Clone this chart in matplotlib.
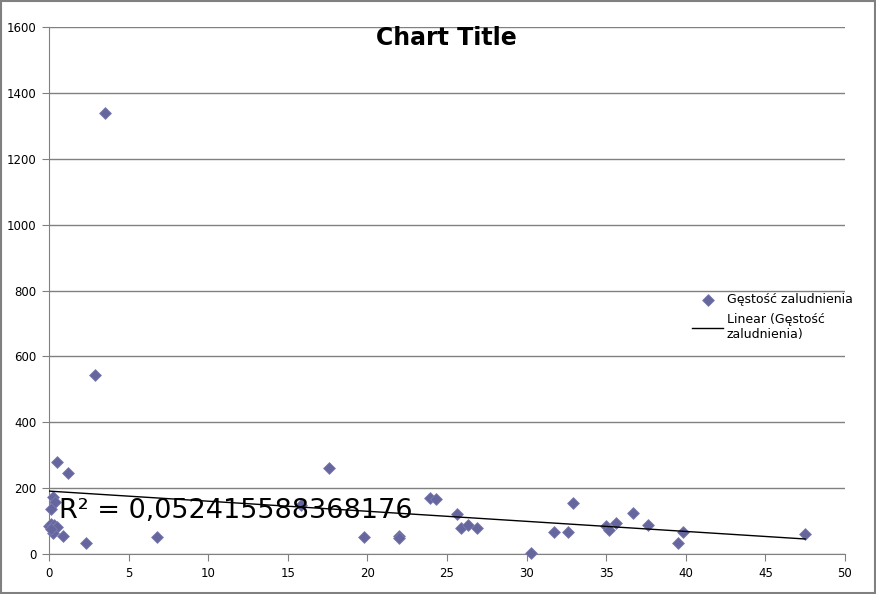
import numpy as np
import matplotlib.pyplot as plt
from matplotlib.patches import Rectangle

# dane
x = [3.5, 2.9, 0.5, 1.2, 0.25, 0.4, 0.1, 0.0, 0.15, 0.3, 0.35, 0.5, 0.25, 0.1,
     0.9, 2.3, 6.8, 15.8, 17.6, 19.8, 22.0, 22.0, 23.9, 24.3, 25.6, 25.9, 26.3,
     26.9, 30.3, 31.7, 32.6, 32.9, 35.0, 35.2, 35.6, 36.7, 37.6, 39.5, 39.8, 47.5]
y = [1338, 545, 278, 245, 173, 158, 138, 85, 92, 88, 78, 82, 65, 75,
     55, 32, 53, 149, 260, 52, 55, 48, 170, 168, 121, 78, 88,
     80, 3, 66, 66, 155, 84, 72, 93, 125, 89, 33, 66, 61]

# linia trendu (Excel)
trend_intercept = 191
trend_slope = -3.06

series_name = 'Gęstość zaludnienia'
r2_text = 'R² = 0,052415588368176'
xticks = np.arange(0, 51, 5)
yticks = np.arange(0, 1601, 200)

fig = plt.figure(figsize=(8.76, 5.94), dpi=100)
ax = fig.add_axes([0.056, 0.0673, 0.9086, 0.8872])

grey = '#808080'
ax.set_xlim(0, 50)
ax.set_ylim(0, 1600)
ax.set_xticks(xticks)
ax.set_yticks(yticks)
ax.yaxis.grid(True, color=grey, linewidth=1)
ax.set_axisbelow(True)
for s in ['top', 'right']:
    ax.spines[s].set_visible(False)
for s in ['left', 'bottom']:
    ax.spines[s].set_color(grey)
ax.tick_params(direction='out', length=5, color=grey, labelsize=8.5, pad=4)

ax.scatter(x, y, marker='D', s=36, color='#66669e', edgecolor='#7a7ab0',
           linewidth=0.6, zorder=3, label=series_name, clip_on=False)

xt = np.array([min(x), max(x)])
ax.plot(xt, trend_slope * xt + trend_intercept, color='black', linewidth=1, zorder=4,
        label='Linear (Gęstość\nzaludnienia)')

ax.text(0.6, 130, r2_text, fontsize=19.5, va='center', ha='left', zorder=5)

fig.text(0.509, 0.936, 'Chart Title', fontsize=17, fontweight='bold',
         ha='center', va='center')

leg = fig.legend(loc='upper left', bbox_to_anchor=(0.777, 0.525), frameon=False,
                 fontsize=9, handlelength=2.5, handletextpad=0.3,
                 labelspacing=0.55)

fig.patches.append(Rectangle((0.001, 0.001), 0.998, 0.998, transform=fig.transFigure,
                             fill=False, edgecolor=grey, linewidth=1.5))

fig.savefig('out.png', dpi=100)
